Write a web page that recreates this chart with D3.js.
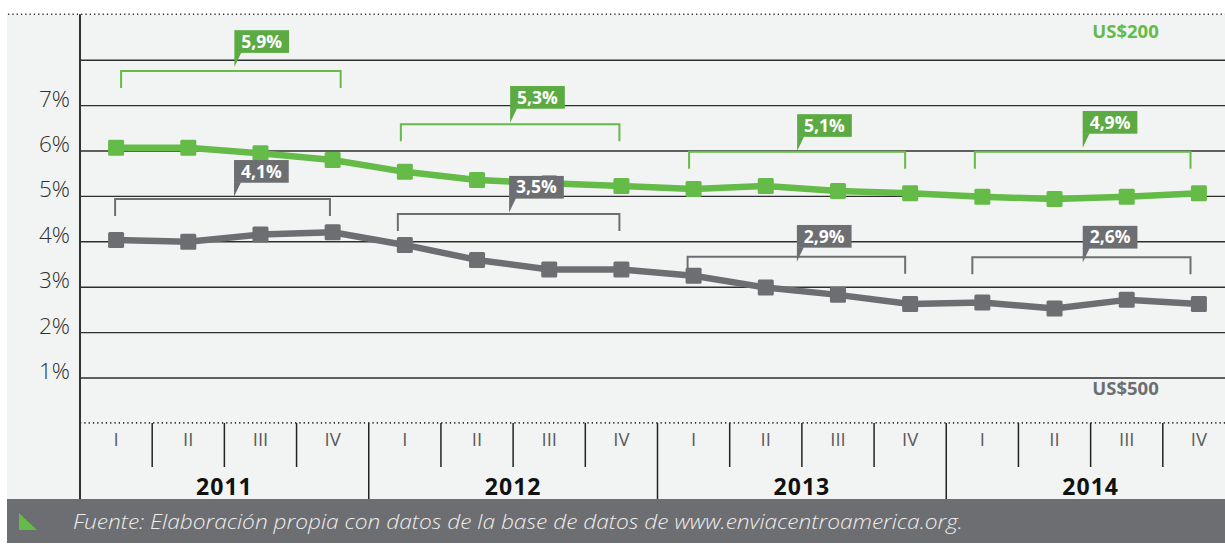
<!DOCTYPE html>
<html><head><meta charset="utf-8">
<script src="https://cdn.jsdelivr.net/npm/d3@7"></script>
<style>
html,body{margin:0;padding:0;background:#fff;}
svg{display:block;font-family:"Open Sans","Noto Sans",sans-serif;}
</style>
</head><body>
<svg id="c" width="1225" height="544"></svg>
<script>
// ---------- data ----------
const years = ["2011", "2012", "2013", "2014"];
const quarters = ["I", "II", "III", "IV"];
const green200 = [6.06, 6.06, 5.94, 5.79, 5.53, 5.35, 5.28, 5.22, 5.15, 5.22, 5.11, 5.06, 4.98, 4.93, 4.98, 5.06];
const gray500  = [4.03, 3.99, 4.15, 4.20, 3.92, 3.59, 3.38, 3.38, 3.24, 2.98, 2.82, 2.62, 2.65, 2.52, 2.71, 2.62];
const greenAnnual = ["5,9%", "5,3%", "5,1%", "4,9%"];
const grayAnnual  = ["4,1%", "3,5%", "2,9%", "2,6%"];
const yTicks = [1, 2, 3, 4, 5, 6, 7];
const gridLevels = [1, 2, 3, 4, 5, 6, 7, 8];
const seriesNames = ["US$200", "US$500"];
const source = "Fuente: Elaboración propia con datos de la base de datos de www.enviacentroamerica.org.";

// ---------- layout (annotation placement, in chart units) ----------
const annoGreen = { bracket: [7.75, 6.58, 5.97, 5.97], boxTop: [8.65, 7.42, 6.80, 6.87],
  dx0: [5, -4, -4.5, -7.5], dx1: [8, -2, -5, -8.4], labelDx: [3.5, 0, 0, 0] };
const annoGray = { bracket: [4.93, 4.60, 3.66, 3.65], boxTop: [5.79, 5.44, 4.36, 4.34],
  dx0: [-1, -7, -6, -10], dx1: [-2.7, -2, -5, -8.4], labelDx: [11.5, 0.5, 0.5, 1.3] };

// ---------- setup ----------
const W = 1225, H = 544;
const plotL = 80, plotR = 1235, footTop = 499;
const cGreen = "#64bb47", cGreenBox = "#5caa44", cGray = "#6d6e71", cInk = "#2e2e2e";
const svg = d3.select("#c");

const x = d3.scaleBand().domain(d3.range(16)).range([plotL, plotR]);
const xYear = d3.scaleBand().domain(years).range([plotL, plotR]);
const y = d3.scaleLinear().domain([0, 9]).range([422.9, 14.3]);
const cx = i => x(i) + x.bandwidth() / 2;

// panel background
svg.append("rect").attr("x", 7).attr("y", y(9)).attr("width", W - 7).attr("height", footTop - y(9))
  .attr("fill", "#f2f4f3");

// gridlines
const grid = svg.append("g").attr("transform", `translate(${plotL},0)`)
  .call(d3.axisLeft(y).tickValues(gridLevels).tickSize(-(W - plotL)).tickFormat(""));
grid.select(".domain").remove();
grid.selectAll("line").attr("stroke", cInk).attr("stroke-width", 1.4);

// dotted lines (top and zero)
svg.append("line").attr("x1", 8).attr("x2", W).attr("y1", y(9)).attr("y2", y(9))
  .attr("stroke", "#333").attr("stroke-width", 1.6).attr("stroke-dasharray", "1.3,3");
svg.append("line").attr("x1", plotL).attr("x2", W).attr("y1", y(0)).attr("y2", y(0))
  .attr("stroke", "#333").attr("stroke-width", 1.6).attr("stroke-dasharray", "1.3,3");

// y labels
const yl = svg.append("g").attr("transform", `translate(${plotL},0)`)
  .call(d3.axisLeft(y).tickValues(yTicks).tickSize(0).tickPadding(10).tickFormat(d => d + "%"));
yl.select(".domain").remove();
yl.selectAll("text").attr("dy", "1px").attr("font-size", 22.5).attr("font-weight", 300)
  .attr("fill", "#2f2f2f").attr("font-family", '"Open Sans",sans-serif');

// y axis line
svg.append("line").attr("x1", plotL).attr("x2", plotL).attr("y1", y(9)).attr("y2", footTop)
  .attr("stroke", "#333").attr("stroke-width", 2);

// quarter / year dividers
d3.range(1, 16).forEach(i => {
  svg.append("line").attr("x1", x(i)).attr("x2", x(i)).attr("y1", y(0))
    .attr("y2", i % 4 === 0 ? footTop : 467).attr("stroke", "#222").attr("stroke-width", 1.5);
});

// quarter labels
const qa = svg.append("g").attr("transform", `translate(0,${y(0)})`)
  .call(d3.axisBottom(x).tickSize(0).tickFormat(i => quarters[i % 4]));
qa.select(".domain").remove();
qa.selectAll("text").attr("y", 23).attr("dy", 0).attr("font-size", 18.5).attr("font-weight", 400)
  .attr("fill", "#5a5a5a").attr("font-family", '"Open Sans",sans-serif');

// year labels
const ya = svg.append("g").attr("transform", `translate(0,0)`)
  .call(d3.axisBottom(xYear).tickSize(0));
ya.select(".domain").remove();
ya.selectAll("text").attr("y", 494.5).attr("dy", 0).attr("font-size", 23).attr("font-weight", 700)
  .attr("letter-spacing", "1px").attr("fill", "#111").attr("font-family", '"Open Sans",sans-serif');

// series
const line = d3.line().x((d, i) => cx(i)).y(d => y(d));
[[gray500, cGray], [green200, cGreen]].forEach(([vals, col]) => {
  svg.append("path").datum(vals).attr("d", line).attr("fill", "none")
    .attr("stroke", col).attr("stroke-width", 6.5).attr("stroke-linejoin", "round");
  svg.append("g").selectAll("rect").data(vals).join("rect")
    .attr("x", (d, i) => cx(i) - 8).attr("y", d => y(d) - 8)
    .attr("width", 16).attr("height", 16).attr("rx", 1.5).attr("fill", col);
});

// annotations
function drawAnno(labels, lay, lineCol, boxCol) {
  labels.forEach((lab, k) => {
    const x0 = cx(k * 4) + lay.dx0[k], x1 = cx(k * 4 + 3) + lay.dx1[k];
    const by = y(lay.bracket[k]);
    svg.append("path")
      .attr("d", `M${x0},${by + 17}V${by}H${x1}V${by + 17}`)
      .attr("fill", "none").attr("stroke", lineCol).attr("stroke-width", 2);
    const bx = (x0 + x1) / 2 + lay.labelDx[k];
    const bt = y(lay.boxTop[k]), bh = 22.7, bw = 54.7;
    svg.append("rect").attr("x", bx).attr("y", bt).attr("width", bw).attr("height", bh).attr("fill", boxCol);
    svg.append("path").attr("d", `M${bx},${bt + bh - 0.5}L${bx},${bt + bh + 14}L${bx + 7},${bt + bh - 0.5}Z`)
      .attr("fill", boxCol);
    svg.append("text").attr("x", bx + bw / 2).attr("y", bt + bh / 2 + 6.2)
      .attr("text-anchor", "middle").attr("font-size", 17.5).attr("font-weight", 700)
      .attr("fill", "#fff").text(lab);
  });
}
drawAnno(greenAnnual, annoGreen, cGreen, cGreenBox);
drawAnno(grayAnnual, annoGray, cGray, cGray);

// series name labels
svg.append("text").attr("x", 1125.5).attr("y", 37.7).attr("text-anchor", "middle")
  .attr("font-size", 18.5).attr("font-weight", 700).attr("fill", cGreen).text(seriesNames[0]);
svg.append("text").attr("x", 1125.5).attr("y", 395).attr("text-anchor", "middle")
  .attr("font-size", 18.5).attr("font-weight", 700).attr("fill", cGray).text(seriesNames[1]);

// footer
svg.append("rect").attr("x", 7).attr("y", footTop).attr("width", W - 7).attr("height", 44).attr("fill", cGray);
svg.append("path").attr("d", "M19,513L19,530L37,530Z").attr("fill", cGreen);
svg.append("text").attr("x", 73).attr("y", 529).attr("font-size", 20).attr("font-style", "italic")
  .attr("font-weight", 300).attr("fill", "#ededed")
  .attr("textLength", 890).attr("lengthAdjust", "spacingAndGlyphs").text(source);
</script>
</body></html>
